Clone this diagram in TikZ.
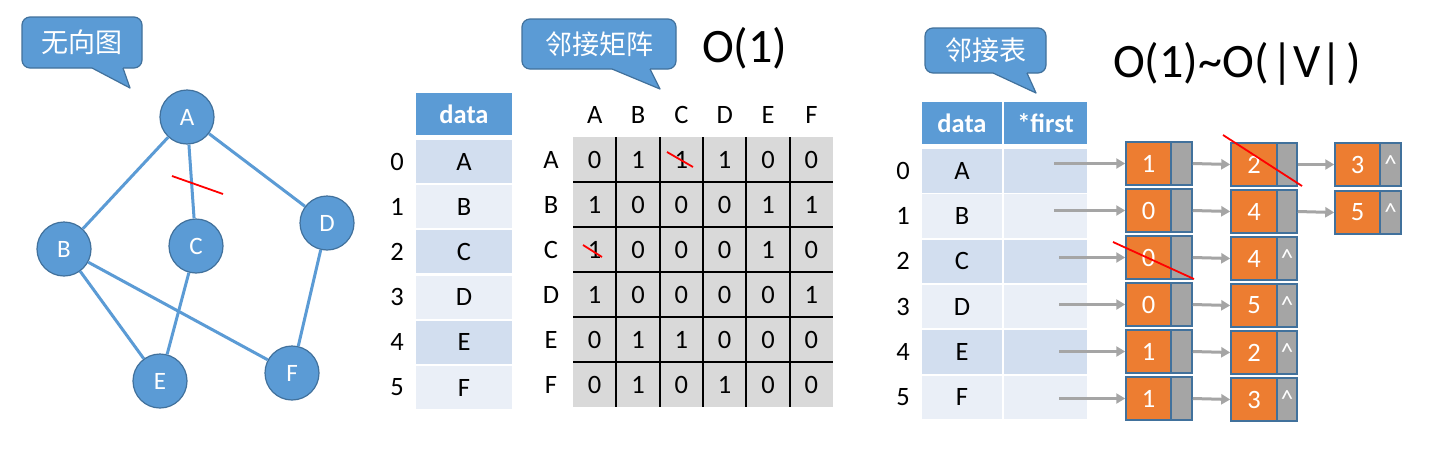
\documentclass[tikz,border=0pt]{standalone}
\usepackage{fontspec}
\setmainfont{Carlito}
\newfontfamily\cjk{Noto Sans CJK SC}
\usetikzlibrary{arrows.meta}
\definecolor{blu}{HTML}{5B9BD5}
\definecolor{bdr}{HTML}{41719C}
\definecolor{orng}{HTML}{ED7D31}
\definecolor{gry}{HTML}{A5A5A5}
\definecolor{bandA}{HTML}{D2DEEF}
\definecolor{bandB}{HTML}{EAEFF7}
\definecolor{mgray}{HTML}{D9D9D9}
\tikzset{
  vert/.style={circle, fill=blu, draw=bdr, line width=1.2pt, minimum size=54pt, inner sep=0pt, text=white, font=\fontsize{25}{30}\selectfont},
  gedge/.style={blu, line width=3pt},
  txt/.style={inner sep=0pt, font=\fontsize{26.5}{30}\selectfont},
  hdr/.style={fill=blu, text=white, inner sep=0pt, font=\bfseries\fontsize{26.5}{30}\selectfont, minimum height=42pt},
  rowA/.style={fill=bandA, inner sep=0pt, font=\fontsize{26.5}{30}\selectfont},
  rowB/.style={fill=bandB, inner sep=0pt, font=\fontsize{26.5}{30}\selectfont},
  cbox/.style={fill=blu, draw=bdr, line width=1.2pt, rounded corners=8pt},
  ctail/.style={fill=blu},
  ctailline/.style={draw=bdr, line width=1.2pt, line join=round},
  ctext/.style={inner sep=0pt, text=white, font=\cjk\fontsize{27}{32}\selectfont},
  big/.style={inner sep=0pt, font=\fontsize{48}{56}\selectfont, anchor=base west},
  mline/.style={black, line width=1.8pt},
  redline/.style={red, line width=1.8pt},
  dbox/.style={fill=orng, draw=bdr, line width=1.5pt, minimum height=43pt, inner sep=0pt, text=white, font=\fontsize{26.5}{30}\selectfont},
  pbox/.style={fill=gry, draw=bdr, line width=1.5pt, minimum height=43pt, inner sep=0pt, text=white, font=\fontsize{25}{28}\selectfont},
  arr/.style={gry, line width=3pt, -{Triangle[length=9pt,width=10pt]}}
}
\begin{document}
\begin{tikzpicture}[x=1pt,y=-1pt]
\useasboundingbox (0,0) rectangle (1451,458);
\fill[white] (0,0) rectangle (1451,458);

% ---------- callout 1 ----------
\path[cbox] (22,17) rectangle (142,68);
\fill[ctail] (92,65) -- (92,68) -- (130,88) -- (123,68) -- (123,65) -- cycle;
\draw[ctailline] (92,68) -- (130,88) -- (123,68);
\node[ctext] (c1) at (82,42.5) {无向图};

% ---------- graph ----------
\node[vert] (A) at (187,117) {A};
\node[vert] (B) at (64,249) {B};
\node[vert] (C) at (196,246) {C};
\node[vert] (D) at (327,223) {D};
\node[vert] (E) at (160,381) {E};
\node[vert] (F) at (292,373) {F};
\draw[gedge] (A) -- (B);
\draw[gedge] (A) -- (C);
\draw[gedge] (A) -- (D);
\draw[gedge] (B) -- (E);
\draw[gedge] (B) -- (F);
\draw[gedge] (C) -- (E);
\draw[gedge] (D) -- (F);
\draw[redline] (172,176) -- (223,194);

% ---------- callout 2 ----------
\path[cbox] (522,19) rectangle (676,69);
\fill[ctail] (612,66) -- (612,69) -- (660,89) -- (650,69) -- (650,66) -- cycle;
\draw[ctailline] (612,69) -- (660,89) -- (650,69);
\node[ctext] (c2) at (599,44) {邻接矩阵};
\node[big] (o1) at (702,62) {O(1)};

% ---------- left table ----------
\node[hdr, minimum width=96pt] (h1) at (464,114) {data};
\foreach \l [count=\i from 0] in {A,B,C,D,E,F}{
  \pgfmathsetmacro\yy{161.5+45.2*\i}
  \ifodd\i
    \node[rowB, minimum width=96pt, minimum height=43pt] (l\i) at (464,\yy) {\l};
  \else
    \node[rowA, minimum width=96pt, minimum height=43pt] (l\i) at (464,\yy) {\l};
  \fi
  \node[txt] (li\i) at (397,\yy) {\i};
}

% ---------- matrix ----------
\fill[mgray] (573,137) rectangle (833,407);
\foreach \k in {1,...,5}{
  \draw[mline] ({573+43.333*\k},137) -- ({573+43.333*\k},407);
  \draw[mline] (573,{137+45*\k}) -- (833,{137+45*\k});
}
\foreach \l [count=\j from 0] in {A,B,C,D,E,F}{
  \node[txt] (ch\j) at ({594.7+43.333*\j},115) {\l};
  \node[txt] (rh\j) at (551,{159.5+45*\j}) {\l};
}
\foreach \row [count=\i from 0] in {{0,1,1,1,0,0},{1,0,0,0,1,1},{1,0,0,0,1,0},{1,0,0,0,0,1},{0,1,1,0,0,0},{0,1,0,1,0,0}}{
  \foreach \v [count=\j from 0] in \row {
    \node[txt] (m\i\j) at ({594.7+43.333*\j},{159.5+45*\i}) {\v};
  }
}
\draw[redline] (667,152) -- (693,167);
\draw[redline] (583,245) -- (602,257);

% ---------- callout 3 ----------
\path[cbox] (925,28) rectangle (1046,73);
\fill[ctail] (993,70) -- (993,73) -- (1036,93) -- (1027,73) -- (1027,70) -- cycle;
\draw[ctailline] (993,73) -- (1036,93) -- (1027,73);
\node[ctext] (c3) at (985.5,50.5) {邻接表};
\node[big] (o2) at (1113,77) {O(1)\char"7EO(\kern3pt|V|\kern3pt)};

% ---------- right table ----------
\node[hdr, minimum width=80pt] (h2) at (962,123) {data};
\node[hdr, minimum width=83pt] (h3) at (1045.5,123) {*first};
\foreach \l [count=\i from 0] in {A,B,C,D,E,F}{
  \pgfmathsetmacro\yy{170.75+45.3*\i}
  \ifodd\i
    \node[rowB, minimum width=80pt, minimum height=43.5pt] (r\i) at (962,\yy) {\l};
    \node[rowB, minimum width=83pt, minimum height=43.5pt] (f\i) at (1045.5,\yy) {};
  \else
    \node[rowA, minimum width=80pt, minimum height=43.5pt] (r\i) at (962,\yy) {\l};
    \node[rowA, minimum width=83pt, minimum height=43.5pt] (f\i) at (1045.5,\yy) {};
  \fi
  \node[txt] (ri\i) at (903,\yy) {\i};
}

% ---------- linked lists ----------
\foreach \r/\a/\b/\k/\sx in {0/1/2/0/1054,1/0/4/0/1054,2/0/4/1/1059,3/0/5/1/1059,4/1/2/1/1059,5/1/3/1/1059}{
  \pgfmathsetmacro\yA{163.5+47*\r}
  \pgfmathsetmacro\yB{164.5+47*\r}
  \node[dbox, minimum width=45pt] (da\r) at (1148.5,\yA) {\a};
  \node[pbox, minimum width=21pt] (pa\r) at (1181.5,\yA) {};
  \node[dbox, minimum width=46pt] (db\r) at (1254,\yB) {\b};
  \node[pbox, minimum width=20pt] (pb\r) at (1287,\yB) {\ifnum\k=1 \textasciicircum\fi};
  \coordinate (s\r) at (\sx,\yA);
  \draw[arr] (s\r) -- (da\r.west);
  \draw[arr] (pa\r.east) -- (db\r.west);
}
\node[dbox, minimum width=45pt] (dc0) at (1357.5,164.5) {3};
\node[pbox, minimum width=21pt] (pc0) at (1390.5,164.5) {\textasciicircum};
\node[dbox, minimum width=45pt] (dc1) at (1357.5,212.5) {5};
\node[pbox, minimum width=21pt] (pc1) at (1390.5,212.5) {\textasciicircum};
\draw[arr] (pb0.east) -- (dc0.west);
\draw[arr] (pb1.east) -- (dc1.west);

\draw[redline] (1223,135) -- (1302,186);
\draw[redline] (1113,242) -- (1194,279);
\end{tikzpicture}
\end{document}
